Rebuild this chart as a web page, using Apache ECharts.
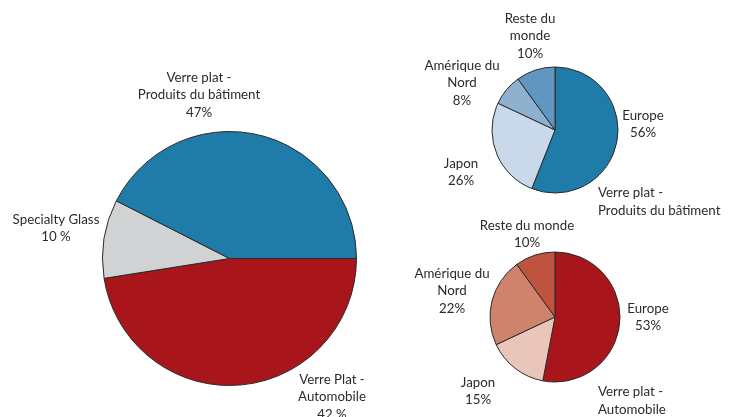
<!DOCTYPE html>
<html>
<head>
<meta charset="utf-8">
<script src="https://cdn.jsdelivr.net/npm/echarts@6/dist/echarts.min.js"></script>
<style>
    html, body { margin: 0; padding: 0; background: #fff; }
    #chart { width: 736px; height: 417px; }
</style>
</head>
<body>
<div id="chart"></div>
<script>
'use strict';

// main pie, clockwise from 3 o'clock (slice sizes as drawn)
const mainNames = ['Verre Plat -\nAutomobile', 'Specialty Glass', 'Verre plat -\nProduits du bâtiment'];
const mainValues = [47.5, 10, 42.5];
const mainPct = ['42 %', '10 %', '47%'];

// regions, clockwise from 12 o'clock
const regionNames = ['Europe', 'Japon', 'Amérique du\nNord', 'Reste du\nmonde'];
const batimentValues = [56, 26, 8, 10];
const autoRegionNames = ['Europe', 'Japon', 'Amérique du\nNord', 'Reste du monde'];
const automobileValues = [53, 15, 22, 10];

const mainColors = ['#a8161c', '#d1d2d4', '#1f7ba8'];
const blueColors = ['#1f7ba8', '#c9d9e9', '#8db1ce', '#6096bf'];
const redColors = ['#a8161c', '#e9c6b9', '#d0836c', '#c0533f'];

// label anchor points
const mainLabelPos = [[332, 397], [56, 228], [199, 95]];
const batLabelPos = [[643, 124], [461, 172], [462, 83], [530, 36]];
const autoLabelPos = [[648, 317], [478, 391], [452, 291], [527, 234]];

const font = 'Lato, "Open Sans", sans-serif';
const fontSize = 13.3;

let myChart = echarts.init(document.getElementById('chart'));

let build = function (names, values, colors, pct) {
    return names.map(function (n, i) {
        return {
            name: n,
            value: values[i],
            pct: pct ? pct[i] : values[i] + '%',
            itemStyle: { color: colors[i] }
        };
    });
};

let makePie = function (data, center, radius, startAngle, pos) {
    return {
        type: 'pie',
        center: center,
        radius: radius,
        startAngle: startAngle,
        clockwise: true,
        silent: true,
        data: data,
        itemStyle: { borderColor: '#2a2a2a', borderWidth: 1 },
        label: {
            show: true,
            position: 'outside',
            overflow: 'none',
            formatter: function (p) {
                return p.name + '\n' + p.data.pct;
            },
            color: '#2b2b2b',
            fontFamily: font,
            fontSize: fontSize,
            lineHeight: 17.5,
            align: 'center'
        },
        labelLine: { show: false },
        labelLayout: function (params) {
            let xy = pos[params.dataIndex];
            return { x: xy[0], y: xy[1], align: 'center', verticalAlign: 'middle' };
        }
    };
};

let titleStyle = { fontFamily: font, fontSize: fontSize, fontWeight: 'normal', color: '#2b2b2b', lineHeight: 17.5 };

let option = {
    animation: false,
    title: [
        { text: 'Verre plat -\nProduits du bâtiment', left: 598, top: 184, padding: 0, textStyle: titleStyle },
        { text: 'Verre plat -\nAutomobile', left: 598, top: 383, padding: 0, textStyle: titleStyle }
    ],
    series: [
        makePie(build(mainNames, mainValues, mainColors, mainPct), [229.5, 258.5], 127, 0, mainLabelPos),
        makePie(build(regionNames, batimentValues, blueColors), [555, 130], 63, 90, batLabelPos),
        makePie(build(autoRegionNames, automobileValues, redColors), [555, 317], 65, 90, autoLabelPos)
    ]
};

myChart.setOption(option);
</script>
</body>
</html>
